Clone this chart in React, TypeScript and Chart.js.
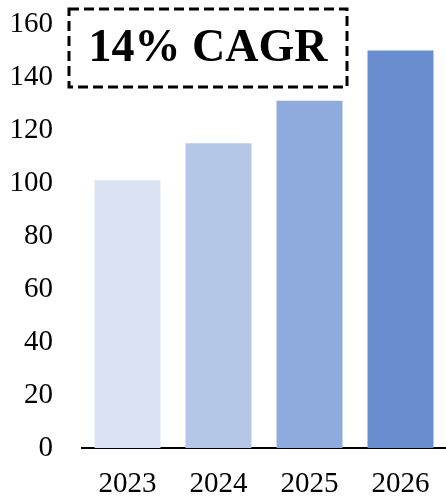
import React, { useEffect, useRef } from "react";
import { Chart, registerables } from "chart.js";

Chart.register(...registerables);

const categories = ["2023", "2024", "2025", "2026"];
const values = [101, 115, 131, 150];
const barColors = ["#DAE3F3", "#B4C7E7", "#8FAADC", "#698ECF"];
const yTicks = [0, 20, 40, 60, 80, 100, 120, 140, 160];
const annotationText = "14% CAGR";

const FONT = "'Liberation Serif', 'Times New Roman', serif";

const boxPlugin = {
  id: "cagrBox",
  afterDraw(chart: any) {
    const ctx = chart.ctx;
    ctx.save();
    ctx.strokeStyle = "#000";
    ctx.lineWidth = 3;
    ctx.setLineDash([10, 5]);
    ctx.strokeRect(69, 9, 278, 78);
    ctx.setLineDash([]);
    ctx.fillStyle = "#000";
    ctx.font = `bold 46px ${FONT}`;
    ctx.textAlign = "center";
    ctx.textBaseline = "middle";
    ctx.fillText(annotationText, 208, 49);
    ctx.restore();
  },
};

export default function App() {
  const ref = useRef<HTMLCanvasElement>(null);
  useEffect(() => {
    if (!ref.current) return;
    const chart = new Chart(ref.current, {
      type: "bar",
      data: {
        labels: categories,
        datasets: [
          {
            data: values,
            backgroundColor: barColors,
            categoryPercentage: 1,
            barPercentage: 0.725,
          },
        ],
      },
      options: {
        animation: false,
        responsive: true,
        maintainAspectRatio: false,
        layout: { padding: 0 },
        plugins: { legend: { display: false }, tooltip: { enabled: false } },
        scales: {
          x: {
            grid: { display: false, drawTicks: false },
            border: { display: true, color: "#000", width: 2 },
            ticks: { color: "#000", font: { family: FONT, size: 29, lineHeight: 1 }, padding: 22 },
            afterFit: (s: any) => {
              s.height = 53;
              s.paddingLeft = 0;
              s.paddingRight = 0;
            },
          },
          y: {
            min: 0,
            max: 160,
            afterBuildTicks: (axis: any) => {
              axis.ticks = yTicks.map((v) => ({ value: v }));
            },
            grid: { display: false, drawTicks: false },
            border: { display: false },
            ticks: { color: "#000", font: { family: FONT, size: 29, lineHeight: 1 }, padding: 29 },
            afterFit: (s: any) => {
              s.width = 82;
              s.paddingTop = 24;
              s.paddingBottom = 0;
            },
          },
        },
      },
      plugins: [boxPlugin],
    });
    return () => chart.destroy();
  }, []);
  return (
    <div style={{ position: "fixed", left: 0, top: 0, width: 446, height: 501, background: "#fff" }}>
      <canvas ref={ref} />
    </div>
  );
}
